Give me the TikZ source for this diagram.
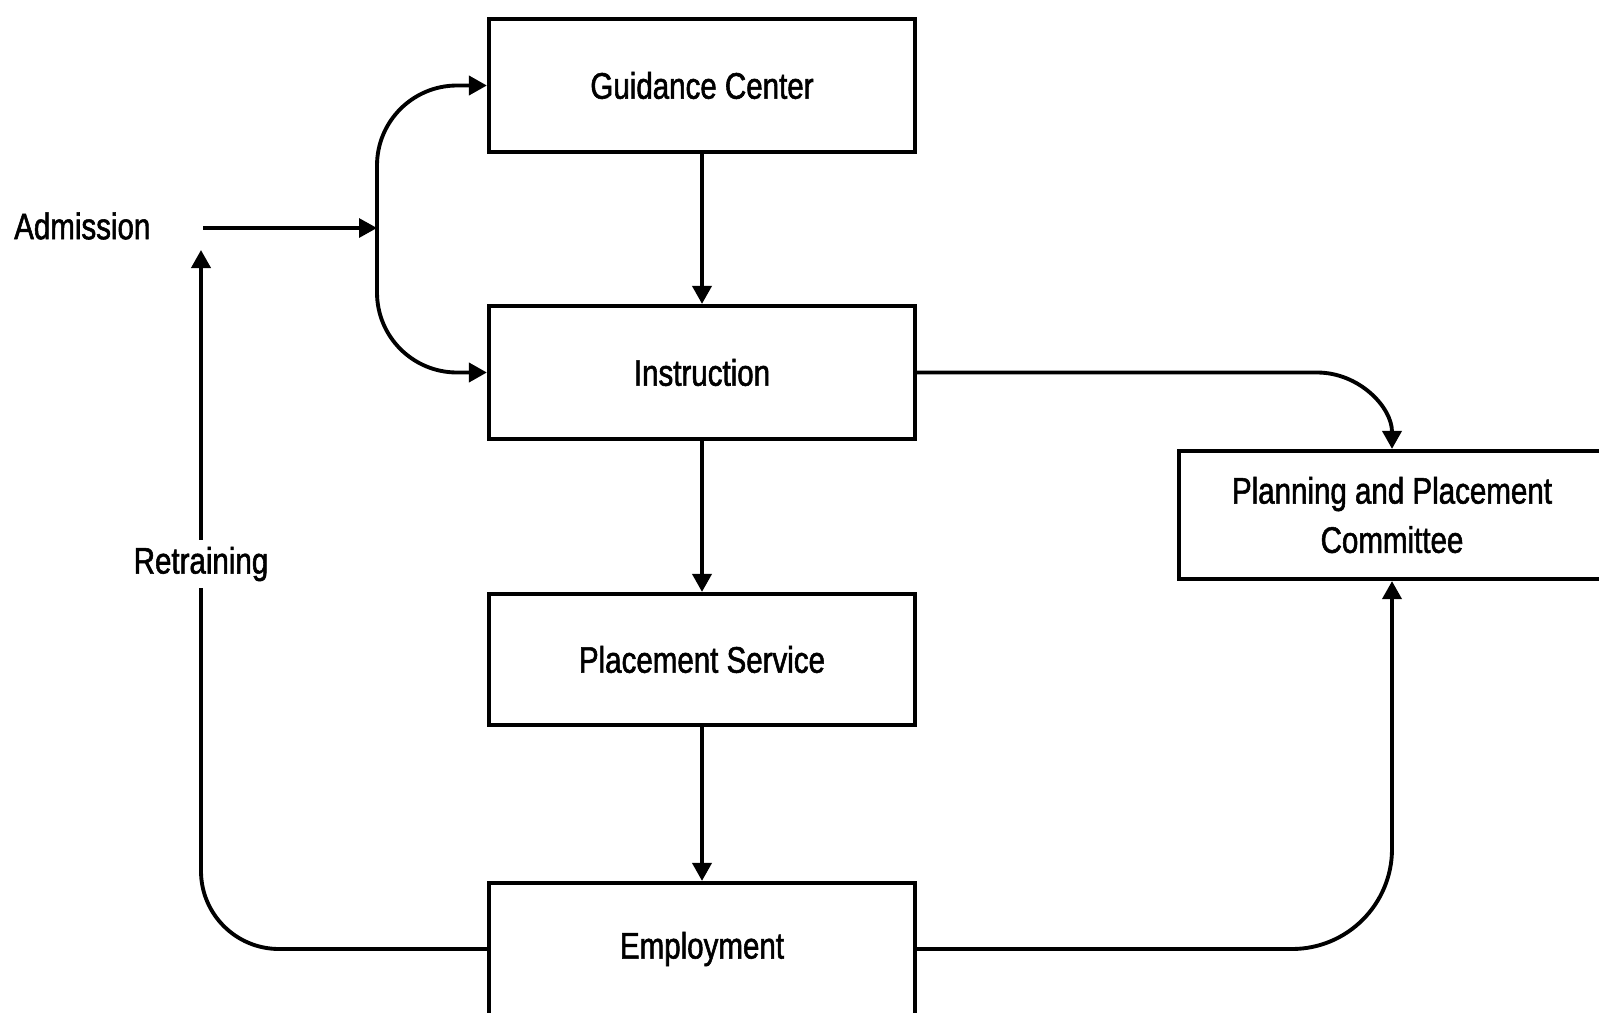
\documentclass[tikz,border=0pt]{standalone}
\usepackage{fontspec}
\setmainfont{Liberation Sans}[FakeStretch=0.8, FakeBold=1.5]
\usepackage{tikz}
\usetikzlibrary{positioning,arrows.meta}
\tikzset{
  flowarrow/.style={-{Triangle[length=1.8mm, width=1.9mm]}, line width=1.1pt},
  stagebox/.style={draw, line width=1.2pt, fill=white, minimum width=4.26cm, minimum height=1.33cm, align=center},
  sidelabel/.style={inner sep=1pt},
  onlabel/.style={fill=white, inner sep=2pt}
}
\begin{document}
\begin{tikzpicture}[every node/.style={font=\fontsize{10.5}{14}\selectfont}]
      \useasboundingbox (0,0) rectangle (15.99,10.12);
      \node[stagebox] (guid) at (7.02,9.265) {Guidance Center};
      \node[stagebox] (instr) at (7.02,6.395) {Instruction};
      \node[stagebox, minimum height=1.31cm] (place) at (7.02,3.525) {Placement Service};
      \node[stagebox, minimum height=1.32cm] (emp) at (7.02,0.63) {Employment};
      \node[stagebox, minimum height=1.28cm] (plan) at (13.92,4.97) {Planning and Placement\\Committee};
      \node[sidelabel, anchor=west] (adm) at (0.1,7.86) {Admission};
      \coordinate (entry) at (2.03,7.84);
      \coordinate (split) at (3.77,7.84);
      \coordinate (back) at (2.01,7.62);
      % entry and the two-way split
      \draw[flowarrow, line width=0.9pt] (entry) -- (split);
      \draw[flowarrow, rounded corners=0.8cm] (split) |- (guid.west);
      \draw[flowarrow, rounded corners=0.8cm] (split) |- (instr.west);
      % main column
      \draw[flowarrow] (guid) -- (instr);
      \draw[flowarrow] (instr) -- (place);
      \draw[flowarrow] (place) -- (emp);
      % committee and retraining
      \draw[flowarrow] (instr.east) -- ++(4.0,0) to[out=0, in=90] (plan.north);
      \draw[flowarrow, rounded corners=1cm] (emp.east) -| (plan.south);
      \draw[flowarrow, rounded corners=0.78cm] (emp.west) -| (back);
      \node[onlabel] (retr) at (2.01,4.48) {Retraining};
    \end{tikzpicture}
\end{document}
